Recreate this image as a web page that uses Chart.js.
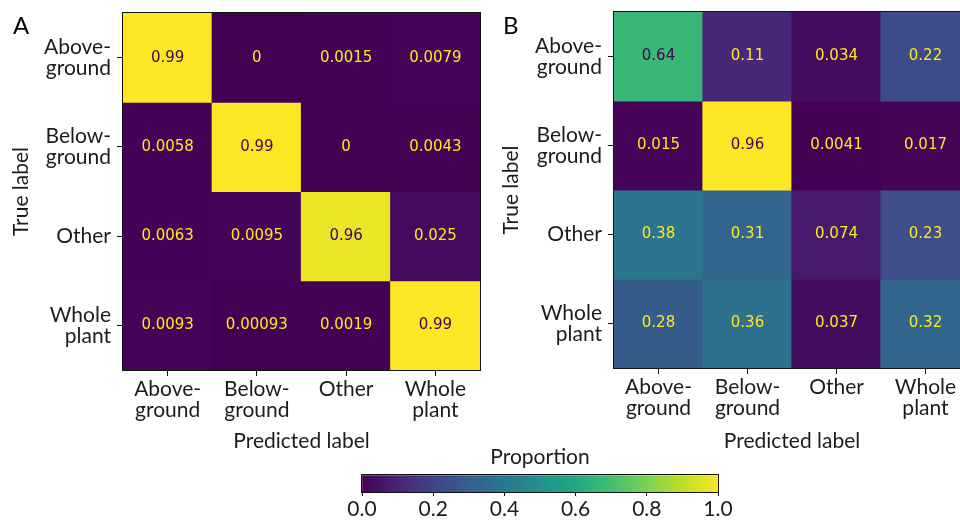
<!DOCTYPE html>
<html>
<head>
<meta charset="utf-8">
<script src="https://cdn.jsdelivr.net/npm/chart.js@4.4.1/dist/chart.umd.min.js"></script>
<style>
  html, body { margin: 0; padding: 0; background: #fff; overflow: hidden; width: 960px; height: 521px; }
  #wrap { position: relative; width: 960px; height: 521px; overflow: hidden; }
  canvas { position: absolute; }
</style>
</head>
<body>
<div id="wrap">
  <canvas id="panelA" width="490" height="521" style="left:0;top:0"></canvas>
  <canvas id="panelB" width="490" height="521" style="left:490px;top:0"></canvas>
  <canvas id="cbar" width="420" height="85" style="left:330px;top:436px"></canvas>
</div>
<script>
// labels
const classLabels = [['Above-', 'ground'], ['Below-', 'ground'], ['Other'], ['Whole', 'plant']];
const colorbarTicks = [0, 0.2, 0.4, 0.6, 0.8, 1.0];

// Panel A rows (true label) -> columns (predicted label)
const aboveA = [0.99, 0, 0.0015, 0.0079];
const belowA = [0.0058, 0.99, 0, 0.0043];
const otherA = [0.0063, 0.0095, 0.96, 0.025];
const wholeA = [0.0093, 0.00093, 0.0019, 0.99];

// Panel B rows
const aboveB = [0.64, 0.11, 0.034, 0.22];
const belowB = [0.015, 0.96, 0.0041, 0.017];
const otherB = [0.38, 0.31, 0.074, 0.23];
const wholeB = [0.28, 0.36, 0.037, 0.32];

// viridis colormap stops
const viridis = ['#440154', '#482475', '#414487', '#355f8d', '#2a788e', '#21918c',
                 '#22a884', '#44bf70', '#7ad151', '#bddf26', '#fde725'];

const FONT = 'Lato, "Open Sans", sans-serif';
const TEXT = '#1c1c1c';

function hexToRgb(h) {
  return [parseInt(h.slice(1, 3), 16), parseInt(h.slice(3, 5), 16), parseInt(h.slice(5, 7), 16)];
}
function cmap(t) {
  t = Math.max(0, Math.min(1, t));
  const pos = t * (viridis.length - 1);
  const i = Math.min(Math.floor(pos), viridis.length - 2);
  const f = pos - i;
  const a = hexToRgb(viridis[i]), b = hexToRgb(viridis[i + 1]);
  const c = a.map((v, k) => Math.round(v + (b[k] - v) * f));
  return `rgb(${c[0]},${c[1]},${c[2]})`;
}
function fmt(v) {
  return String(Number(v.toPrecision(2)));
}
function noPad(s) {
  s.paddingTop = 0; s.paddingBottom = 0; s.paddingLeft = 0; s.paddingRight = 0;
}

// frame + cell text
const framePlugin = {
  id: 'frame',
  afterDatasetsDraw(chart, args, opts) {
    const {ctx, chartArea} = chart;
    ctx.save();
    if (opts.rows) {
      const all = opts.rows.flat();
      const lo = Math.min(...all), hi = Math.max(...all);
      ctx.font = '15px "DejaVu Sans"';
      ctx.textAlign = 'center';
      ctx.textBaseline = 'middle';
      opts.rows.forEach((row, i) => {
        const meta = chart.getDatasetMeta(i);
        row.forEach((v, j) => {
          const p = meta.data[j].getCenterPoint();
          ctx.fillStyle = v < (lo + hi) / 2 ? '#fde725' : '#440154';
          ctx.fillText(fmt(v), p.x, p.y);
        });
      });
    }
    ctx.strokeStyle = '#111';
    ctx.lineWidth = 1;
    ctx.strokeRect(Math.round(chartArea.left) - 0.5, Math.round(chartArea.top) - 0.5,
      Math.round(chartArea.right - chartArea.left) + 1, Math.round(chartArea.bottom - chartArea.top) + 1);
    if (opts.letter) {
      ctx.font = '24px ' + FONT;
      ctx.fillStyle = '#000';
      ctx.textAlign = 'left';
      ctx.textBaseline = 'alphabetic';
      ctx.fillText(opts.letter, opts.lx, 34);
    }
    ctx.restore();
  }
};

function matrixChart(id, rows, letter, pad) {
  const all = rows.flat();
  const lo = Math.min(...all), hi = Math.max(...all);
  const datasets = rows.map((row, i) => ({
    data: row.map(() => [i - 0.5, i + 0.5]),
    backgroundColor: row.map(v => cmap((v - lo) / (hi - lo))),
    borderWidth: 0,
    inflateAmount: 0.6,
    grouped: false,
    barPercentage: 1,
    categoryPercentage: 1
  }));
  return new Chart(document.getElementById(id), {
    type: 'bar',
    data: { labels: classLabels, datasets },
    plugins: [framePlugin],
    options: {
      responsive: false,
      animation: false,
      events: [],
      layout: { padding: { left: 0, right: 10, top: pad.top, bottom: 0 } },
      plugins: {
        legend: { display: false },
        tooltip: { enabled: false },
        frame: { rows, letter, lx: 13 }
      },
      scales: {
        x: {
          type: 'category',
          afterFit: s => { s.height = pad.xh; noPad(s); },
          grid: { drawOnChartArea: false, offset: false, tickLength: 6, color: '#111' },
          border: { display: false },
          ticks: { color: TEXT, font: { family: FONT, size: 21, lineHeight: 1.0 }, padding: 3, maxRotation: 0, autoSkip: false },
          title: { display: true, text: 'Predicted label', color: TEXT, font: { family: FONT, size: 21 }, padding: { top: 0, bottom: 67 } }
        },
        y: {
          type: 'linear',
          reverse: true,
          min: -0.5,
          max: 3.5,
          afterFit: s => { s.width = pad.yw; noPad(s); },
          afterBuildTicks: s => { s.ticks = [0, 1, 2, 3].map(v => ({ value: v })); },
          grid: { drawOnChartArea: false, tickLength: 6, color: '#111' },
          border: { display: false },
          ticks: { color: TEXT, font: { family: FONT, size: 21, lineHeight: 1.0 }, padding: 6, callback: v => classLabels[v] },
          title: { display: true, text: 'True label', color: TEXT, font: { family: FONT, size: 21 }, padding: { top: 9, bottom: 0 } }
        }
      }
    }
  });
}

matrixChart('panelA', [aboveA, belowA, otherA, wholeA], 'A', { top: 13, xh: 151, yw: 123 });
matrixChart('panelB', [aboveB, belowB, otherB, wholeB], 'B', { top: 12, xh: 153, yw: 124 });

// colorbar
new Chart(document.getElementById('cbar'), {
  type: 'bar',
  data: {
    labels: ['Proportion'],
    datasets: [{
      data: [[colorbarTicks[0], colorbarTicks[colorbarTicks.length - 1]]],
      backgroundColor: (c) => {
        const ca = c.chart.chartArea;
        if (!ca) return viridis[0];
        const g = c.chart.ctx.createLinearGradient(ca.left, 0, ca.right, 0);
        viridis.forEach((col, i) => g.addColorStop(i / (viridis.length - 1), col));
        return g;
      },
      barPercentage: 1,
      categoryPercentage: 1
    }]
  },
  plugins: [framePlugin],
  options: {
    indexAxis: 'y',
    responsive: false,
    animation: false,
    events: [],
    layout: { padding: { left: 32, right: 32, top: 0, bottom: 0 } },
    plugins: {
      legend: { display: false },
      tooltip: { enabled: false },
      title: { display: true, text: 'Proportion', color: TEXT, font: { family: FONT, size: 21, weight: 'normal', lineHeight: 1.2 }, padding: { top: 9, bottom: 5 } },
      frame: {}
    },
    scales: {
      y: { display: false },
      x: {
        type: 'linear',
        min: 0,
        max: 1,
        afterBuildTicks: s => { s.ticks = colorbarTicks.map(v => ({ value: v })); },
        afterFit: s => { s.height = 29; noPad(s); },
        grid: { drawOnChartArea: false, tickLength: 4, color: '#111' },
        border: { display: false },
        ticks: { color: TEXT, font: { family: FONT, size: 21, lineHeight: 1.0 }, padding: 3, maxRotation: 0, autoSkip: false, callback: v => v.toFixed(1) }
      }
    }
  }
});
</script>
</body>
</html>
